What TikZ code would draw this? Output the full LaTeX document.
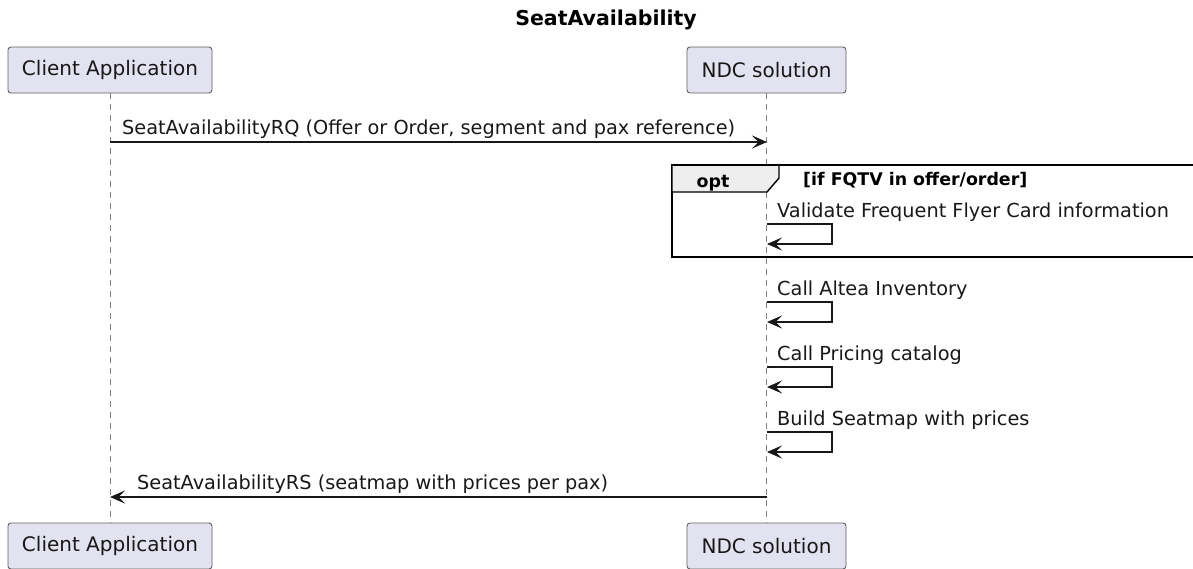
\documentclass[tikz,border=0pt]{standalone}
\usepackage{fontspec}
\setmainfont{DejaVu Sans}
\usepackage{xcolor}
\usepackage{tikz}
\usetikzlibrary{arrows.meta,calc,positioning}

\definecolor{actorfill}{HTML}{E2E2F0}
\definecolor{actorline}{HTML}{606060}
\definecolor{lineink}{HTML}{181818}
\definecolor{tabfill}{HTML}{EEEEEE}

\begin{document}
\begin{tikzpicture}[
  x=1pt,y=-1pt,
  tip/.tip={Stealth[length=15pt,width=13pt,inset=6.5pt]},
  actor/.style={rectangle,draw=actorline,line width=0.9pt,fill=actorfill,rounded corners=3pt,inner sep=0pt,minimum height=46pt,text=lineink,font=\fontsize{20}{24}\selectfont},
  lifeline/.style={draw=gray,line width=0.8pt,dash pattern=on 6pt off 5pt},
  msg/.style={-tip,draw=lineink,line width=1.2pt},
  msgtext/.style={anchor=base west,inner sep=0pt,text=lineink,font=\fontsize{19.3}{22}\selectfont},
  frame/.style={draw=black,line width=2.2pt}
]
  \clip (0,0) rectangle (1193,568);
  \useasboundingbox (0,0) rectangle (1193,568);

  \node[anchor=base,inner sep=0pt,font=\fontsize{20.5}{24}\bfseries] (title) at (606,25) {SeatAvailability};

  % participants
  \node[actor,minimum width=204pt] (client) at (110,70) {Client Application};
  \node[actor,minimum width=159pt] (ndc) at (766.5,70) {NDC solution};
  \node[actor,minimum width=204pt] (client2) at (110,546) {Client Application};
  \node[actor,minimum width=159pt] (ndc2) at (766.5,546) {NDC solution};

  \draw[lifeline] (client) -- (client2);
  \draw[lifeline] (ndc) -- (ndc2);

  % request
  \coordinate (rqa) at (110,142);
  \coordinate (rqb) at (767,142);
  \draw[msg] (rqa) -- (rqb);
  \node[msgtext] (rqlabel) at (122,134) {SeatAvailabilityRQ (Offer or Order, segment and pax reference)};

  % opt fragment
  \draw[frame] (672,165) rectangle (1200,257);
  \draw[frame,fill=tabfill,line width=1.4pt] (672,165) -- (779,165) -- (779,178) -- (767,192) -- (672,192) -- cycle;
  \draw[frame] (672,165) -- (1200,165);
  \node[anchor=base,inner sep=0pt,font=\fontsize{17.4}{20}\bfseries] (opt) at (713,187) {opt};
  \node[anchor=base west,inner sep=0pt,font=\fontsize{17.4}{20}\bfseries] (cond) at (803,185) {[if FQTV in offer/order]};

  % self calls
  \foreach \name/\ya/\txt in {ffc/224/Validate Frequent Flyer Card information,
                              inv/302/Call Altea Inventory,
                              cat/367/Call Pricing catalog,
                              map/432/Build Seatmap with prices} {
    \coordinate (\name a) at (767,\ya);
    \coordinate (\name b) at (767,\ya+20);
    \draw[msg] (\name a) -- ++(65,0) |- (\name b);
    \node[msgtext] (\name label) at (777,\ya-7) {\txt};
  }

  % response
  \coordinate (rsa) at (767,497);
  \coordinate (rsb) at (110,497);
  \draw[msg] (rsa) -- (rsb);
  \node[msgtext] (rslabel) at (137,489) {SeatAvailabilityRS (seatmap with prices per pax)};
\end{tikzpicture}
\end{document}
